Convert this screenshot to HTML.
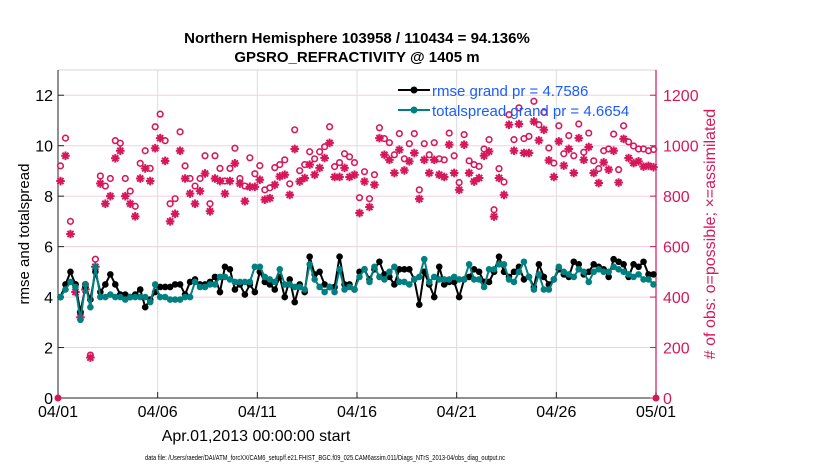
<!DOCTYPE html>
<html><head><meta charset="utf-8"><style>
body{margin:0;background:#fff;}
svg{display:block;font-family:"Liberation Sans",sans-serif;}
</style></head><body>
<svg id="chart" width="830" height="470">
<rect width="830" height="470" fill="#fff"/>
<text x="357" y="43" font-size="15" font-weight="bold" text-anchor="middle">Northern Hemisphere 103958 / 110434 = 94.136%</text>
<text x="357" y="62" font-size="15" font-weight="bold" text-anchor="middle">GPSRO_REFRACTIVITY @ 1405 m</text>
<g id="grid"></g>
<g id="axes"></g>
<g id="marks"></g>
<g id="legend">
<line x1="398" y1="90" x2="430" y2="90" stroke="#000" stroke-width="2"/>
<circle cx="414" cy="90" r="3.5" fill="#000"/>
<text x="432" y="96" font-size="15" fill="#1a5cff">rmse grand pr = 4.7586</text>
<line x1="398" y1="110" x2="430" y2="110" stroke="#008080" stroke-width="2"/>
<circle cx="414" cy="110" r="3.5" fill="#008080"/>
<text x="432" y="116" font-size="15" fill="#1a5cff">totalspread grand pr = 4.6654</text>
</g>
<text transform="translate(29,234) rotate(-90)" font-size="15" text-anchor="middle">rmse and totalspread</text>
<text transform="translate(715,234) rotate(-90)" font-size="16" text-anchor="middle" fill="#d6185b"># of obs: o=possible; ×=assimilated</text>
<text x="256" y="441" font-size="16" text-anchor="middle">Apr.01,2013 00:00:00 start</text>
<text x="145" y="460" font-size="7.5" textLength="360" lengthAdjust="spacingAndGlyphs">data file: /Users/raeder/DAI/ATM_forcXX/CAM6_setup/f.e21.FHIST_BGC.f09_025.CAM6assim.011/Diags_NTrS_2013-04/obs_diag_output.nc</text>
</svg>
<script>
const xTickLabels=["04/01","04/06","04/11","04/16","04/21","04/26","05/01"];
const xTickDays=[0,5,10,15,20,25,30];
const leftTicks=[0,2,4,6,8,10,12];
const rightTicks=[0,200,400,600,800,1000,1200];
const edgeDays=[0,30];
const edgeCounts=[0,0];
const rmse=[4.0,4.5,5.0,4.5,3.4,4.4,3.9,5.0,4.2,4.5,4.9,4.5,4.1,4.1,4.0,4.1,4.3,3.6,3.9,4.2,
4.4,4.4,4.4,4.5,4.5,4.1,4.6,4.7,4.5,4.5,4.6,4.8,4.2,5.2,5.1,4.3,4.5,4.1,4.5,4.2,
5.0,4.6,4.5,4.3,4.8,4.0,4.7,3.8,4.5,4.2,5.6,4.9,5.0,4.5,4.4,4.4,5.6,4.5,4.5,4.3,
5.0,5.1,4.7,5.1,5.4,4.9,4.8,4.5,5.1,5.1,5.1,4.7,3.7,5.0,4.5,4.0,5.2,4.5,4.6,4.6,
4.0,4.7,4.8,5.1,5.0,4.6,4.6,5.0,5.6,5.0,4.8,5.0,5.2,4.7,4.8,4.4,5.3,4.8,4.5,4.7,
5.1,4.9,4.8,5.4,5.3,4.9,5.0,5.3,5.2,5.1,4.8,5.5,5.4,5.3,4.8,5.3,5.2,5.4,4.9,4.9];
const spread=[4.0,4.3,4.6,4.4,3.1,4.5,3.6,5.2,4.0,4.0,4.1,4.0,4.0,3.9,4.0,4.0,4.0,4.0,3.8,4.5,
4.0,4.0,3.9,3.9,3.9,4.0,4.0,4.6,4.4,4.4,4.5,4.5,4.8,4.8,4.7,4.6,4.6,4.6,4.6,5.2,
5.2,4.8,4.7,4.6,5.1,4.5,4.5,4.4,4.4,4.3,5.3,4.7,4.4,4.2,4.4,4.2,5.1,4.3,4.4,4.3,
4.8,5.1,4.6,5.2,4.8,4.7,5.0,5.2,4.6,4.6,4.5,4.7,4.8,5.5,4.6,4.8,4.7,4.7,4.7,4.8,
4.7,4.7,5.3,4.7,4.7,4.4,5.1,5.1,5.3,5.3,4.7,4.6,5.0,5.4,4.8,4.3,4.9,4.3,4.3,4.7,
5.2,5.0,4.9,4.8,5.1,5.0,4.6,5.0,5.1,5.0,5.0,5.2,5.1,5.0,4.9,4.8,4.9,4.7,4.7,4.5];
const possible=[920,1030,700,450,340,450,170,550,880,840,870,1020,1010,870,820,760,930,980,910,1075,
1125,1020,770,790,1055,920,870,840,870,960,770,960,910,860,910,990,870,840,
952,889,921,825,833,913,925,944,849,1063,901,925,976,948,976,996,1075,917,933,968,956,933,794,897,790,885,1071,1028,1012,964,1048,948,1008,1048,825,1008,964,1012,948,944,
1050,960,854,1044,940,925,918,987,1024,746,909,856,1123,1024,1150,1028,1037,1176,1083,1132,991,931,1079,968,1040,960,1086,974,1050,940,909,980,987,1046,905,1079,1015,999,987,987,980,985];
const assimilated=[860,960,650,420,320,430,160,520,850,770,800,950,980,800,770,720,870,910,860,990,
1030,940,700,730,980,870,810,770,820,890,740,870,860,810,860,930,850,780,
837,837,865,786,792,845,878,885,805,987,858,872,925,885,912,951,1011,876,876,912,876,885,733,858,757,845,1030,964,944,892,984,902,938,971,789,944,892,944,885,876,
1004,892,825,1004,892,858,872,960,977,719,872,805,1083,980,1086,971,971,1096,1021,1063,942,876,1017,921,987,892,1030,944,995,892,852,934,905,980,854,1027,951,931,938,917,920,915];

const NS="http://www.w3.org/2000/svg";
const X0=58,X1=656,Y0=398,Y1=70;
const xs=d=>X0+(X1-X0)*d/30;
const yl=v=>Y0-(Y0-Y1)*v/13;
const yr=n=>Y0-(Y0-Y1)*n/1300;
const idxDay=i=>(i+0.5)/4;
function mk(tag,attrs,parent){const e=document.createElementNS(NS,tag);for(const k in attrs)e.setAttribute(k,attrs[k]);parent.appendChild(e);return e;}
const grid=document.getElementById('grid'),axes=document.getElementById('axes'),marks=document.getElementById('marks');
mk('rect',{x:X0,y:Y1,width:X1-X0,height:Y0-Y1,fill:'none',stroke:'#ccc','stroke-width':0.8},grid);
leftTicks.forEach(v=>{if(v>0)mk('line',{x1:X0,x2:X1,y1:yl(v),y2:yl(v),stroke:'#f3cfe0','stroke-width':1},grid);});
xTickDays.forEach(d=>{if(d>0&&d<30)mk('line',{x1:xs(d),x2:xs(d),y1:Y1,y2:Y0,stroke:'#dcdcdc','stroke-width':1},grid);});
mk('line',{x1:X0,x2:X0,y1:Y1,y2:Y0,stroke:'#222','stroke-width':1},axes);
mk('line',{x1:X0,x2:X1,y1:Y0,y2:Y0,stroke:'#222','stroke-width':1},axes);
mk('line',{x1:X1,x2:X1,y1:Y1,y2:Y0,stroke:'#d6185b','stroke-width':1.2},axes);
leftTicks.forEach(v=>{
 mk('line',{x1:X0,x2:X0+6,y1:yl(v),y2:yl(v),stroke:'#222'},axes);
 const t=mk('text',{x:X0-5,y:yl(v)+6,'font-size':16,'text-anchor':'end'},axes);
 t.textContent=v;
 
 
});
rightTicks.forEach(n=>{
 mk('line',{x1:X1-6,x2:X1,y1:yr(n),y2:yr(n),stroke:'#d6185b'},axes);
 const t=mk('text',{x:X1+7,y:yr(n)+6,'font-size':16,fill:'#d6185b'},axes);
 t.textContent=n;
 
 
});
xTickDays.forEach((d,i)=>{
 mk('line',{x1:xs(d),x2:xs(d),y1:Y0-6,y2:Y0,stroke:'#222'},axes);
 const t=mk('text',{x:xs(d),y:Y0+19,'font-size':16,'text-anchor':'middle'},axes);
 t.textContent=xTickLabels[i];
 
 
});
const C='#d6185b';
possible.forEach((n,i)=>{
 const c=mk('circle',{cx:xs(idxDay(i)),cy:yr(n),r:2.8,fill:'none',stroke:C,'stroke-width':1.6},marks);
 
 
});
assimilated.forEach((n,i)=>{
 const cx=xs(idxDay(i)),cy=yr(n),r=4.3;let d='';
 for(let k=0;k<4;k++){const a=k*Math.PI/4;d+=`M${cx-r*Math.cos(a)},${cy-r*Math.sin(a)}L${cx+r*Math.cos(a)},${cy+r*Math.sin(a)}`;}
 const p=mk('path',{d:d,stroke:C,'stroke-width':2},marks);
 
 
});
edgeDays.forEach((d,i)=>{
 const c=mk('circle',{cx:xs(d),cy:yr(edgeCounts[i]),r:3.5,fill:C},marks);
 
 
});
function series(vals,color,name){
 const pts=vals.map((v,i)=>xs(idxDay(i))+','+yl(v)).join(' ');
 const pl=mk('polyline',{points:pts,fill:'none',stroke:color,'stroke-width':2},marks);
 
 
 vals.forEach((v,i)=>{
  const c=mk('circle',{cx:xs(idxDay(i)),cy:yl(v),r:3.3,fill:color},marks);
  
  
 });
}
series(rmse,'#000','rmse');
series(spread,'#008080','totalspread');
</script>
</body></html>
